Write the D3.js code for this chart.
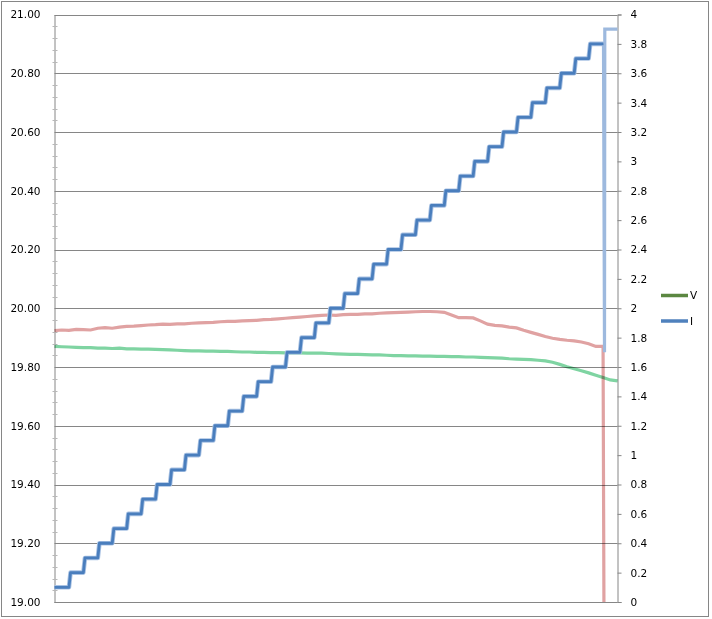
<!DOCTYPE html>
<html><head><meta charset="utf-8">
<script src="https://cdn.jsdelivr.net/npm/d3@7"></script>
<style>body{margin:0;background:#fff}svg{display:block}</style>
</head><body><svg id="c" width="712" height="619"></svg>
<script>
// ---- data ----
const leftTickLabels = ["19.00","19.20","19.40","19.60","19.80","20.00","20.20","20.40","20.60","20.80","21.00"];
const rightTickLabels = ["0","0.2","0.4","0.6","0.8","1","1.2","1.4","1.6","1.8","2","2.2","2.4","2.6","2.8","3","3.2","3.4","3.6","3.8","4"];
const sampleStep = 5; // time units between samples of the two voltage traces
const redV = [19.924,19.926,19.925,19.928,19.927,19.926,19.932,19.934,19.932,19.936,
 19.938,19.939,19.941,19.943,19.944,19.946,19.945,19.947,19.947,19.949,
 19.950,19.951,19.952,19.954,19.955,19.955,19.957,19.958,19.959,19.961,
 19.962,19.964,19.966,19.968,19.970,19.972,19.974,19.976,19.977,19.976,
 19.978,19.979,19.979,19.981,19.981,19.983,19.984,19.985,19.986,19.987,
 19.988,19.989,19.989,19.988,19.986,19.977,19.968,19.968,19.967,19.957,
 19.946,19.942,19.940,19.936,19.933,19.925,19.918,19.911,19.904,19.898,
 19.894,19.891,19.889,19.885,19.879,19.870,19.870];
const redDropT = 380.6, redDropV = 19.00;
const greenV = [19.870,19.869,19.868,19.867,19.866,19.866,19.864,19.864,19.863,19.864,
 19.862,19.862,19.861,19.861,19.860,19.859,19.858,19.857,19.856,19.855,
 19.855,19.854,19.854,19.853,19.853,19.852,19.851,19.851,19.850,19.850,
 19.849,19.849,19.848,19.848,19.848,19.847,19.847,19.847,19.846,19.845,
 19.844,19.843,19.843,19.842,19.841,19.841,19.840,19.839,19.839,19.838,
 19.838,19.837,19.837,19.836,19.836,19.835,19.835,19.834,19.834,19.833,
 19.832,19.831,19.830,19.828,19.827,19.826,19.825,19.823,19.821,19.816,
 19.809,19.801,19.794,19.787,19.780,19.772,19.764,19.756,19.753];
const iLevels = [0.1,0.2,0.3,0.4,0.5,0.6,0.7,0.8,0.9,1.0,1.1,1.2,1.3,1.4,1.5,1.6,1.7,1.8,1.9,2.0,
 2.1,2.2,2.3,2.4,2.5,2.6,2.7,2.8,2.9,3.0,3.1,3.2,3.3,3.4,3.5,3.6,3.7,3.8];
const iStepLen = 10;
const iTailT = [380.3, 381, 381.2, 390];
const iTailV = [3.8, 1.7, 3.9, 3.9];
const legendNames = ["V","I"];

// ---- layout ----
const L=54.5, R=617.5, T=14.5, B=602;
const svg = d3.select("#c");
svg.append("rect").attr("x",1.5).attr("y",1.5).attr("width",707).attr("height",615)
  .attr("fill","#fff").attr("stroke","#868686").attr("stroke-width",1);

const x = d3.scaleLinear().domain([0,390]).range([L,R]);
const yL = d3.scaleLinear().domain([19,21]).range([B,T]);
const yR = d3.scaleLinear().domain([0,4]).range([B,T]);
const font = "DejaVu Sans, Verdana, sans-serif";

// gridlines
const leftVals = leftTickLabels.map(Number);
svg.append("g").selectAll("line").data(leftVals).join("line")
  .attr("x1",L).attr("x2",R).attr("y1",d=>Math.round(yL(d))+0.5).attr("y2",d=>Math.round(yL(d))+0.5)
  .attr("stroke","#868686").attr("stroke-width",1);

// left axis
const gL = svg.append("g").attr("transform",`translate(${L},0)`)
  .call(d3.axisLeft(yL).tickValues(leftVals).tickFormat((d,i)=>leftTickLabels[i]).tickSize(0).tickPadding(14));
gL.select(".domain").attr("stroke","#868686");
gL.selectAll("text").attr("font-family",font).attr("font-size",10.5).attr("fill","#000");
// minor ticks
const minor = d3.range(0,50).map(i=>19+i*0.04).filter(v=>Math.abs((v-19)/0.2-Math.round((v-19)/0.2))>0.01);
svg.append("g").selectAll("line").data(minor).join("line")
  .attr("x1",L-2).attr("x2",L+3).attr("y1",d=>Math.round(yL(d))+0.5).attr("y2",d=>Math.round(yL(d))+0.5)
  .attr("stroke","#b8b8b8").attr("stroke-width",1);

// right axis
const rightVals = rightTickLabels.map(Number);
const gR = svg.append("g").attr("transform",`translate(${R},0)`)
  .call(d3.axisRight(yR).tickValues(rightVals).tickFormat((d,i)=>rightTickLabels[i]).tickSize(4).tickPadding(9));
gR.select(".domain").attr("stroke","#868686");
gR.selectAll(".tick line").attr("stroke","#868686");
gR.selectAll("text").attr("font-family",font).attr("font-size",10.5).attr("fill","#000");

// bottom axis line
svg.append("line").attr("x1",L).attr("x2",R).attr("y1",B+0.5).attr("y2",B+0.5).attr("stroke","#868686");

// series
const line = (ys)=>d3.line().x(d=>x(d[0])).y(d=>ys(d[1]));
const greenPts = greenV.map((v,i)=>[i*sampleStep,v]);
const redPts = redV.map((v,i)=>[i*sampleStep,v]).concat([[redDropT,redDropV]]);
svg.append("path").datum(greenPts).attr("d",line(yL)).attr("fill","none")
  .attr("stroke","#7fd4a2").attr("stroke-width",3.2).style("mix-blend-mode","multiply");
svg.append("path").datum(redPts).attr("d",line(yL)).attr("fill","none")
  .attr("stroke","#e0a2a2").attr("stroke-width",3.2).style("mix-blend-mode","multiply");

const iPts = [];
iLevels.forEach((v,j)=>{
  const t0=j*iStepLen;
  iPts.push([j===0?0:t0+1.1,v]);
  iPts.push([t0+iStepLen,v]);
});
iPts[iPts.length-1][0]=iTailT[0];
const tailPts = iTailT.map((t,i)=>[t,iTailV[i]]);
svg.append("path").datum(tailPts).attr("d",line(yR)).attr("fill","none")
  .attr("stroke","#9db9de").attr("stroke-width",3.2);
svg.append("path").datum(iPts).attr("d",line(yR)).attr("fill","none")
  .attr("stroke","#a9c2e3").attr("stroke-width",4.6).attr("stroke-linejoin","round");
svg.append("path").datum(iPts).attr("d",line(yR)).attr("fill","none")
  .attr("stroke","#4a7ebd").attr("stroke-width",2.8).attr("stroke-linejoin","round");

// legend
const legColors = ["#5b8741","#4f81bd"];
const lg = svg.append("g");
legendNames.forEach((n,i)=>{
  const yy = 295.5 + i*25.5;
  lg.append("line").attr("x1",661).attr("x2",688).attr("y1",yy).attr("y2",yy)
    .attr("stroke",legColors[i]).attr("stroke-width",3.5);
  lg.append("text").attr("x",690).attr("y",yy).attr("dy","0.36em").text(n)
    .attr("font-family",font).attr("font-size",10.5).attr("fill","#000");
});
</script></body></html>
